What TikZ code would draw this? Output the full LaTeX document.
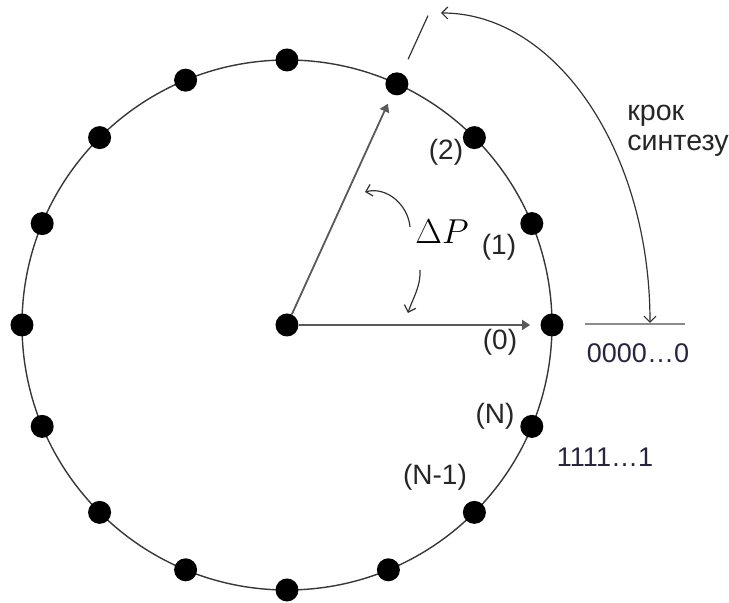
\documentclass[tikz,border=0pt]{standalone}
\usepackage{fontspec}
\setmainfont{Liberation Sans}
\usetikzlibrary{arrows.meta}
\definecolor{ringcol}{RGB}{55,55,55}
\definecolor{digitcol}{RGB}{40,36,66}

\begin{document}
\begin{tikzpicture}[
  x=0.5pt, y=0.5pt,
  lbl/.style={font=\fontsize{14}{15}\selectfont, text=black!85, inner sep=0pt},
  code/.style={font=\fontsize{13.5}{15}\selectfont, text=digitcol, inner sep=0pt},
  dot/.style={circle, fill=black, inner sep=0pt, minimum size=11.5pt},
  ring/.style={draw=ringcol, line width=0.7pt},
  ar/.style={-{Triangle[length=4pt,width=5pt]}, line width=0.9pt, draw=black!65, shorten >=5pt},
  barb/.style={-{Straight Barb[length=3pt,width=6pt]}, line width=0.6pt, draw=black!80}
]
\useasboundingbox (-287,-278) rectangle (442,325);
\draw[ring] (0,0) circle[radius=265];
\node[dot] (o)   at (0,0)        {};
\node[dot] (d0)  at (0:265)      {};
\node[dot] (d1)  at (22.5:265)   {};
\node[dot] (d2)  at (45:265)     {};
\node[dot] (d3)  at (65.5:265)   {};
\node[dot] (d4)  at (90:265)     {};
\node[dot] (d5)  at (112.5:265)  {};
\node[dot] (d6)  at (135:265)    {};
\node[dot] (d7)  at (157.5:265)  {};
\node[dot] (d8)  at (180:265)    {};
\node[dot] (d9)  at (202.5:265)  {};
\node[dot] (d10) at (225:265)    {};
\node[dot] (d11) at (247.5:265)  {};
\node[dot] (d12) at (270:265)    {};
\node[dot] (d13) at (292.5:265)  {};
\node[dot] (d14) at (315:265)    {};
\node[dot] (d15) at (337.5:265)  {};
\node[lbl] (l2)  at (159,173)    {(2)};
\node[lbl] (l1)  at (212,78)     {(1)};
\node[lbl] (l0)  at (213,-17)    {(0)};
\node[lbl] (lN)  at (208,-91)    {(N)};
\node[lbl] (lN1) at (148,-152)   {(N-1)};
\node[inner sep=0pt, font=\fontsize{17}{20}\selectfont] (dP) at (155,93) {$\Delta P$};
\node[lbl, font=\fontsize{14.3}{15}\selectfont, align=left, anchor=west] (step) at (340,194) {крок\\синтезу};
\node[code] (zeros) at (351,-28)  {0000…0};
\node[code] (ones)  at (318,-132) {1111…1};
\coordinate (tickA) at (65.5:292);
\coordinate (tickB) at (65.5:340);
\coordinate (stepA) at (154,312);
\coordinate (zl) at (298,1);
\coordinate (zr) at (398,1);
\coordinate (dpA) at (123,98);
\coordinate (dpB) at (78,133);
\coordinate (dpC) at (133,55);
\coordinate (dpD) at (121,12);
\draw[ar] (o) -- (d0);
\draw[ar] (o) -- (d3);
\draw[line width=0.6pt, draw=black!80] (tickA) -- (tickB);
\draw[line width=1pt, draw=black!45] (zl) -- (zr);
\draw[barb, {Straight Barb[length=3pt,width=6pt]}-{Straight Barb[length=3pt,width=6pt]}] (stepA) arc[start angle=90, end angle=0, x radius=209, y radius=310];
\draw[barb] (dpA) to[out=95, in=15] (dpB);
\draw[barb] (dpC) to[out=-88, in=72] (dpD);
\end{tikzpicture}
\end{document}
